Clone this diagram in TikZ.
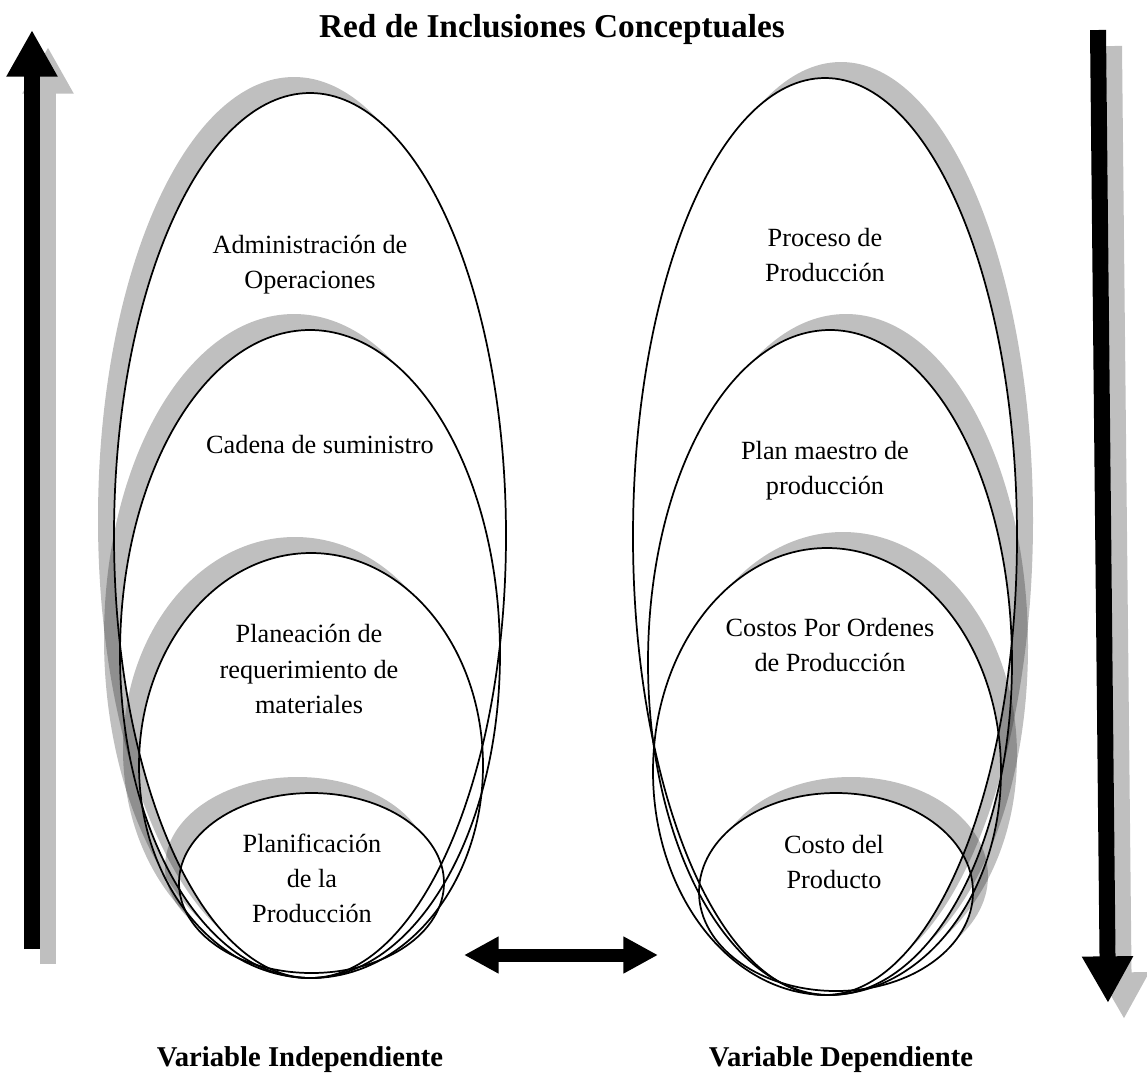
\documentclass[tikz,border=0pt]{standalone}
\usepackage{fontspec}
\setmainfont{Liberation Serif}
\usetikzlibrary{arrows.meta}
\begin{document}
\begin{tikzpicture}[x=0.75pt,y=-0.75pt,
  lbl/.style={font=\fontsize{19.7}{26.3}\selectfont, align=center, inner sep=0pt},
  ttl/.style={font=\fontsize{21.5}{26.3}\selectfont\bfseries, inner sep=0pt},
  headline/.style={font=\fontsize{25}{30}\selectfont\bfseries, inner sep=0pt},
  outline/.style={draw=black, line width=1.3pt},
  shade/.style={fill=black, fill opacity=0.25},
  bigarrow/.style={line width=12pt, -{Triangle[width=36pt,length=35pt]}},
  linkarrow/.style={line width=9.75pt, {Triangle[width=26pt,length=26pt]}-{Triangle[width=26pt,length=26pt]}}
]
\useasboundingbox (0,0) rectangle (1147,1076);

% shadow crescent of an ellipse: shifted copy, clipped outside the ellipse itself
\newcommand{\ellshadow}[6]{% cx, cy, rx, ry, dx, dy
  \begin{scope}[even odd rule]
    \clip (-10,-10) rectangle (1160,1090) (#1,#2) ellipse ({#3} and {#4});
    \fill[shade] ({#1+#5},{#2+#6}) ellipse ({#3} and {#4});
  \end{scope}}

% ---------- shadows ----------
\ellshadow{310}{535.5}{196}{442.5}{-16}{-16}
\ellshadow{310}{654}{190}{324}{-16}{-16}
\ellshadow{311}{765.5}{172}{212.5}{-16}{-16}
\ellshadow{311.5}{883}{132.5}{90}{-14}{-16}

\ellshadow{825}{536.5}{192}{458.5}{16}{-16}
\ellshadow{830}{662.5}{182}{332.5}{16}{-16}
\ellshadow{827}{771.5}{174}{223.5}{16}{-16}
\ellshadow{836}{892}{137}{99}{15}{-16}

% ---------- ellipses ----------
\draw[outline] (310,535.5) ellipse (196 and 442.5);
\draw[outline] (310,654) ellipse (190 and 324);
\draw[outline] (311,765.5) ellipse (172 and 212.5);
\draw[outline] (311.5,883) ellipse (132.5 and 90);

\draw[outline] (825,536.5) ellipse (192 and 458.5);
\draw[outline] (830,662.5) ellipse (182 and 332.5);
\draw[outline] (827,771.5) ellipse (174 and 223.5);
\draw[outline] (836,892) ellipse (137 and 99);

% ---------- labels ----------
\node[headline] (title) at (552,29) {Red de Inclusiones Conceptuales};
\node[lbl] (t1) at (310,265) {Administración de\\Operaciones};
\node[lbl] (t2) at (320,445) {Cadena de suministro};
\node[lbl] (t3) at (309,669) {Planeación de\\requerimiento de\\materiales};
\node[lbl] (t4) at (312,878) {Planificación\\de la\\Producción};
\node[lbl] (t5) at (825,255) {Proceso de\\Producción};
\node[lbl] (t6) at (825,471) {Plan maestro de\\producción};
\node[lbl] (t7) at (830,645) {Costos Por Ordenes\\de Producción};
\node[lbl] (t8) at (834,862) {Costo del\\Producto};
\node[ttl] (vi) at (300,1060) {Variable Independiente};
\node[ttl] (vd) at (841,1060) {Variable Dependiente};

% ---------- arrows ----------
\coordinate (lg0) at (48,964);  \coordinate (lg1) at (48,47);
\coordinate (lb0) at (32,949);  \coordinate (lb1) at (32,30);
\coordinate (rg0) at (1114,46); \coordinate (rg1) at (1124,1019);
\coordinate (rb0) at (1098,30); \coordinate (rb1) at (1108,1003);
\draw[bigarrow, draw=black!25, fill=black!25] (lg0) -- (lg1);
\draw[bigarrow, draw=black, fill=black] (lb0) -- (lb1);
\draw[bigarrow, draw=black!25, fill=black!25] (rg0) -- (rg1);
\draw[bigarrow, draw=black, fill=black] (rb0) -- (rb1);

\coordinate (da) at (464,955); \coordinate (db) at (658,955);
\draw[linkarrow] (da) -- (db);
\end{tikzpicture}
\end{document}
